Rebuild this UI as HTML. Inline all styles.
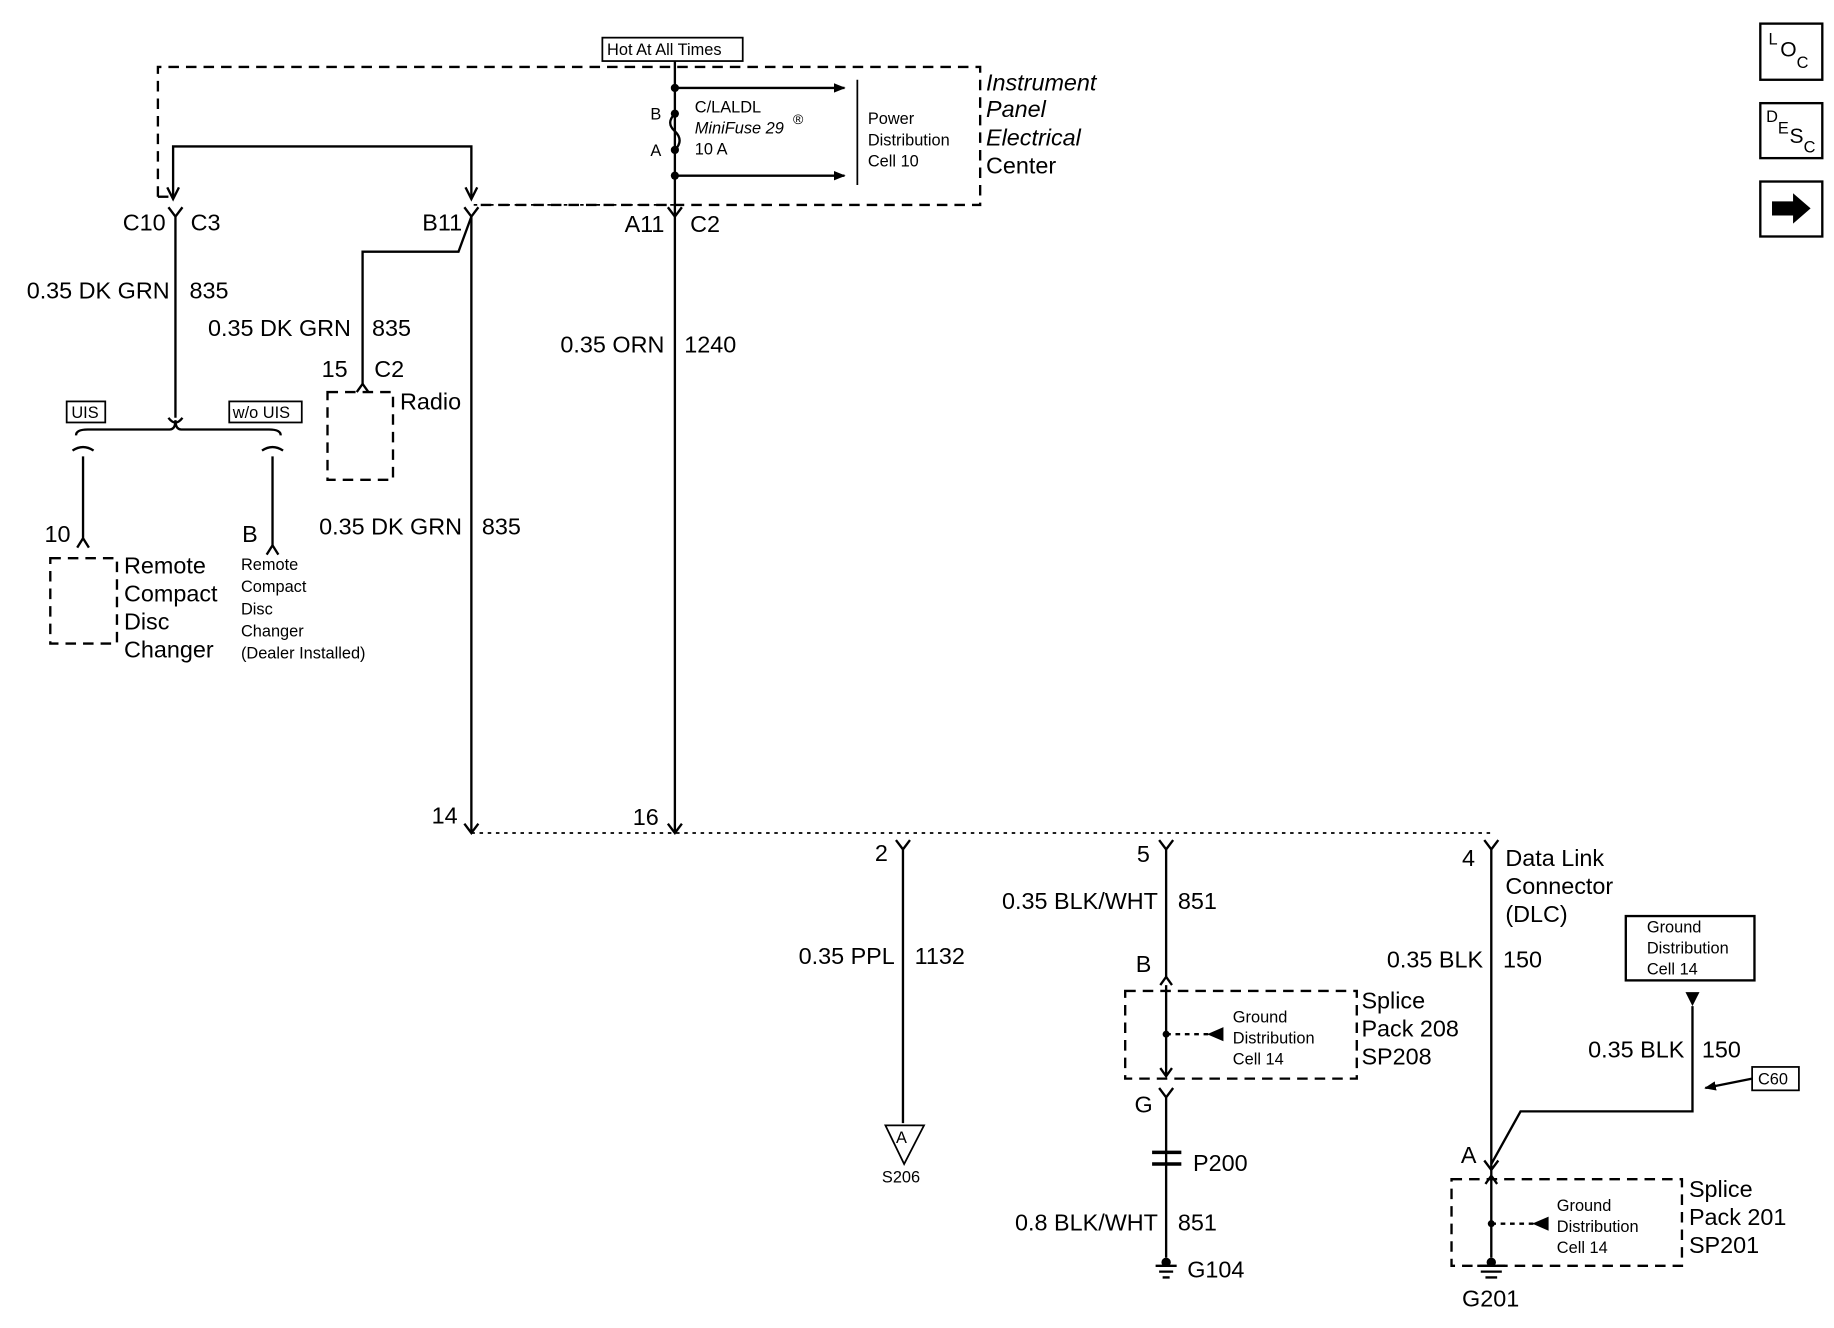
<!DOCTYPE html>
<html><head><meta charset="utf-8"><style>
html,body{margin:0;padding:0;background:#fff}
svg{display:block}
text{font-family:"Liberation Sans",sans-serif;fill:#000}
</style></head><body>
<svg width="1834" height="1328" viewBox="0 0 1568 1135" xmlns="http://www.w3.org/2000/svg">
<defs><marker id="ar" markerWidth="10" markerHeight="10" refX="9" refY="5" orient="auto" markerUnits="userSpaceOnUse"><path d="M0,1 L10,5 L0,9 z" fill="#000"/></marker></defs>
<g stroke="#000" fill="none" stroke-width="2">
<!-- IPEC dashed box -->
<path d="M135,168 V57 H838 V175 H405" stroke-dasharray="9,6"/>
<path d="M135,168 H145" stroke-dasharray="9,6"/>
<path d="M405,175 H577" stroke-dasharray="3,4" stroke-width="1.5"/>
<rect x="515" y="32" width="120" height="20" stroke-width="1.5"/>
<!-- fuse wire -->
<path d="M577,52 V712"/>
<path d="M577,75 H722" marker-end="url(#ar)"/>
<path d="M577,150 H722" marker-end="url(#ar)"/>
<path d="M577,97 q-8,8 0,15 q8,8 0,16" />
<path d="M733,68 V158" stroke-width="1.5"/>
<!-- top loop -->
<path d="M148,168 V125 H403 V168"/>
<path d="M143,160 L148,170 L153,160 M398,160 L403,170 L408,160" stroke-width="2"/>
<!-- C3 wire -->
<path d="M144,177 L150,185 L156,177 M150,185 V357"/>
<path d="M144,357 q6,8 12,0"/>
<path d="M65,372 q0,-5 10,-5 H145 q5,0 5,-8 q0,8 5,8 H230 q10,0 10,5"/>
<path d="M62,385 q9,-6 18,0 M224,385 q9,-6 18,0"/>
<path d="M71,390 V460 M66,468 L71,460 L76,468"/>
<path d="M233,390 V466 M228,474 L233,466 L238,474"/>
<rect x="43" y="477" width="57" height="73" stroke-dasharray="9,6"/>
<rect x="57" y="343" width="33" height="18" stroke-width="1.5"/>
<rect x="196" y="343" width="62" height="18" stroke-width="1.5"/>
<!-- B11 wire -->
<path d="M397,177 L403,185 L409,177 M403,185 V712"/>
<path d="M403,185 L392,215 H310 V328"/>
<path d="M305,335 L310,328 L315,335"/>
<rect x="280" y="335" width="56" height="75" stroke-dasharray="9,6"/>
<path d="M571,177 L577,185 L583,177"/>
<!-- bottom connector -->
<path d="M403,712 H1275" stroke-dasharray="3,4" stroke-width="1.5"/>
<path d="M397,704 L403,712 L409,704 M571,704 L577,712 L583,704"/>
<path d="M766,718 L772,726 L778,718 M772,726 V960"/>
<path d="M757,962 H790 L773,995 Z" stroke-width="1.5"/>
<path d="M991,718 L997,726 L1003,718 M997,726 V835"/>
<path d="M992,842 L997,835 L1002,842 M997,842 V920 M992,913 L997,920 L1002,913"/>
<rect x="962" y="847" width="198" height="75" stroke-dasharray="9,6"/>
<path d="M997,884 H1040" stroke-dasharray="4,4"/>
<path d="M991,930 L997,938 L1003,930 M997,938 V1075"/>
<path d="M985,985 H1010 M985,995 H1010" stroke-width="3"/>
<path d="M988,1082 H1006 M991,1087 H1003 M994,1092 H1000"/>
<path d="M1269,718 L1275,726 L1281,718 M1275,726 V1075"/>
<path d="M1269,992 L1275,1000 L1281,992"/>
<path d="M1275,995 L1300,950 H1447 V860"/>
<rect x="1390" y="783" width="110" height="55" stroke-width="2"/>
<rect x="1498" y="912" width="40" height="20" stroke-width="1.5"/>
<path d="M1498,922 L1458,930" marker-end="url(#ar)"/>
<path d="M1270,1012 L1275,1005 L1280,1012"/>
<rect x="1241" y="1008" width="197" height="74" stroke-dasharray="9,6"/>
<path d="M1275,1046 H1318" stroke-dasharray="4,4"/>
<path d="M1263,1082 H1287 M1266,1087 H1284 M1270,1092 H1280"/>
<!-- icons -->
<rect x="1505" y="20" width="53" height="48"/>
<rect x="1505" y="88" width="53" height="47"/>
<rect x="1505" y="155" width="53" height="47"/>
</g>
<g fill="#000">
<circle cx="577" cy="75" r="3.5"/><circle cx="577" cy="97" r="3.5"/><circle cx="577" cy="128" r="3.5"/><circle cx="577" cy="150" r="3.5"/>
<circle cx="997" cy="884" r="3"/><circle cx="1275" cy="1046" r="3"/>
<path d="M1032,884 L1046,878 V890 Z"/><path d="M1310,1046 L1324,1040 V1052 Z"/>
<path d="M1441,848 H1453 L1447,860 Z"/>
<circle cx="997" cy="1079" r="4"/><circle cx="1275" cy="1079" r="4"/>
<path d="M1515,172 H1533 V165 L1548,178 L1533,191 V184 H1515 Z"/>
</g>
<g font-size="14">
<text x="519" y="47">Hot At All Times</text>
<text x="594" y="96">C/LALDL</text>
<text x="594" y="114" font-style="italic">MiniFuse 29</text><text x="678" y="106" font-size="12">®</text>
<text x="594" y="132">10 A</text>
<text x="556" y="102">B</text><text x="556" y="133">A</text>
<text x="742" y="106">Power</text><text x="742" y="124">Distribution</text><text x="742" y="142">Cell 10</text>
<text x="61" y="357">UIS</text><text x="199" y="357">w/o UIS</text>
<text x="206" y="487">Remote</text><text x="206" y="506">Compact</text><text x="206" y="525">Disc</text><text x="206" y="544">Changer</text><text x="206" y="563">(Dealer Installed)</text>
<text x="1054" y="874">Ground</text><text x="1054" y="892">Distribution</text><text x="1054" y="910">Cell 14</text>
<text x="1331" y="1035">Ground</text><text x="1331" y="1053">Distribution</text><text x="1331" y="1071">Cell 14</text>
<text x="1408" y="797">Ground</text><text x="1408" y="815">Distribution</text><text x="1408" y="833">Cell 14</text>
<text x="1503" y="927">C60</text>
<text x="766" y="977">A</text><text x="754" y="1011">S206</text>
</g>
<g font-size="20">
<text x="843" y="77" font-style="italic">Instrument</text><text x="843" y="100" font-style="italic">Panel</text><text x="843" y="124" font-style="italic">Electrical</text><text x="843" y="148">Center</text>
<text x="105" y="197">C10</text><text x="163" y="197">C3</text>
<text x="361" y="197">B11</text><text x="534" y="198">A11</text><text x="590" y="198">C2</text>
<text x="145" y="255" text-anchor="end">0.35 DK GRN</text><text x="162" y="255">835</text>
<text x="300" y="287" text-anchor="end">0.35 DK GRN</text><text x="318" y="287">835</text>
<text x="275" y="322">15</text><text x="320" y="322">C2</text><text x="342" y="350">Radio</text>
<text x="568" y="301" text-anchor="end">0.35 ORN</text><text x="585" y="301">1240</text>
<text x="38" y="463">10</text><text x="207" y="463">B</text>
<text x="106" y="490">Remote</text><text x="106" y="514">Compact</text><text x="106" y="538">Disc</text><text x="106" y="562">Changer</text>
<text x="395" y="457" text-anchor="end">0.35 DK GRN</text><text x="412" y="457">835</text>
<text x="369" y="704">14</text><text x="541" y="705">16</text>
<text x="748" y="736">2</text><text x="972" y="737">5</text><text x="1250" y="740">4</text>
<text x="1287" y="740">Data Link</text><text x="1287" y="764">Connector</text><text x="1287" y="788">(DLC)</text>
<text x="765" y="824" text-anchor="end">0.35 PPL</text><text x="782" y="824">1132</text>
<text x="990" y="777" text-anchor="end">0.35 BLK/WHT</text><text x="1007" y="777">851</text>
<text x="971" y="831">B</text>
<text x="1164" y="862">Splice</text><text x="1164" y="886">Pack 208</text><text x="1164" y="910">SP208</text>
<text x="970" y="951">G</text>
<text x="1020" y="1001">P200</text>
<text x="990" y="1052" text-anchor="end">0.8 BLK/WHT</text><text x="1007" y="1052">851</text>
<text x="1015" y="1092">G104</text>
<text x="1268" y="827" text-anchor="end">0.35 BLK</text><text x="1285" y="827">150</text>
<text x="1440" y="904" text-anchor="end">0.35 BLK</text><text x="1455" y="904">150</text>
<text x="1249" y="994">A</text>
<text x="1444" y="1023">Splice</text><text x="1444" y="1047">Pack 201</text><text x="1444" y="1071">SP201</text>
<text x="1250" y="1117">G201</text>
</g>
<g font-size="14">
<text x="1512" y="38">L</text><text x="1522" y="48" font-size="18">O</text><text x="1536" y="58">C</text>
<text x="1510" y="104">D</text><text x="1520" y="114">E</text><text x="1530" y="122" font-size="18">S</text><text x="1542" y="130">C</text>
</g>
</svg>
</body></html>
